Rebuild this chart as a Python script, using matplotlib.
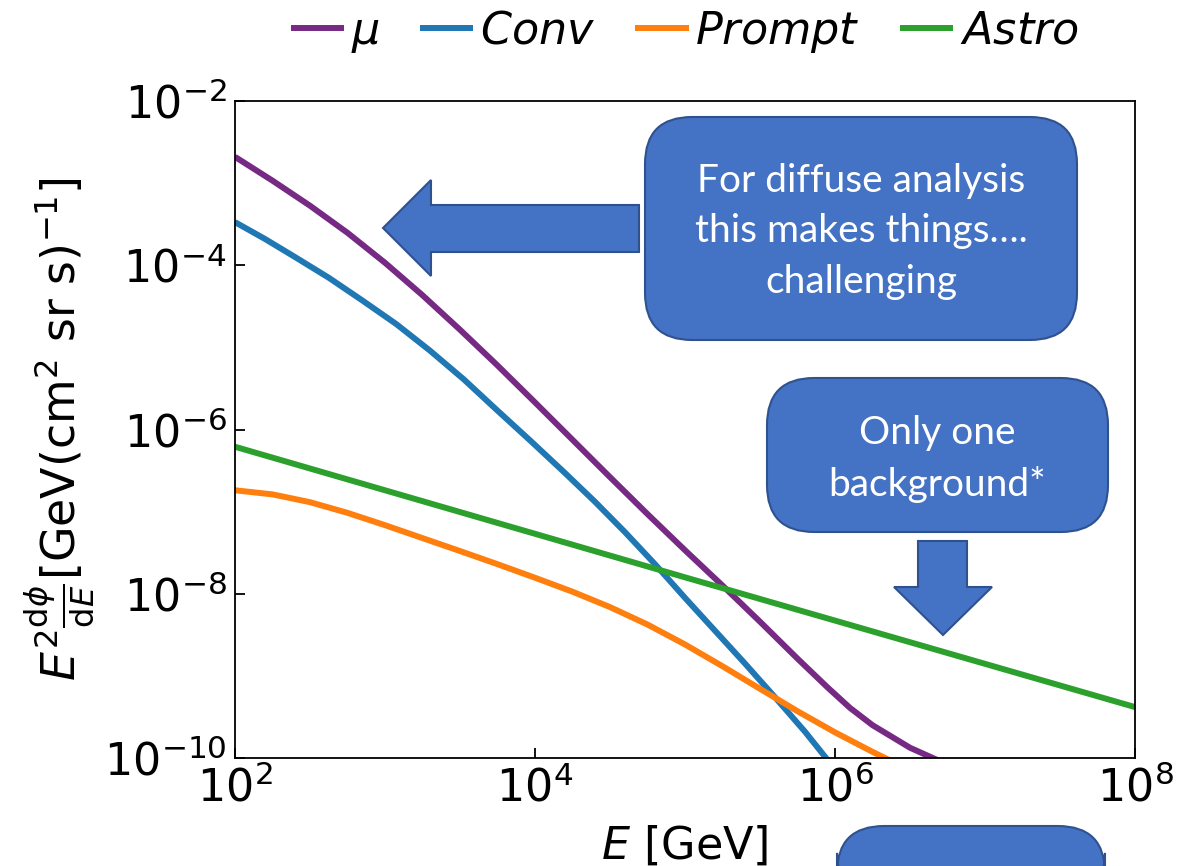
#!/usr/bin/env python3
"""Atmospheric muon / neutrino flux components with slide call-outs."""

import numpy as np
import matplotlib

matplotlib.use("Agg")
import matplotlib.pyplot as plt
from matplotlib.patches import FancyBboxPatch, Polygon

# curves, as log10(E / GeV) and log10(E^2 dphi/dE)
mu_log_e = np.array([2.0, 2.25, 2.5, 2.75, 3.0, 3.25, 3.5, 3.75, 4.0, 4.25, 4.5, 4.75,
                     5.0, 5.25, 5.5, 5.75, 5.95, 6.1, 6.25, 6.5, 6.75])
mu_log_f = np.array([-2.68, -2.97, -3.275, -3.605, -3.97, -4.365, -4.785, -5.22, -5.67, -6.125,
                     -6.58, -7.03, -7.47, -7.90, -8.34, -8.79, -9.14, -9.39, -9.60, -9.875, -10.08])

conv_log_e = np.array([2.0, 2.2, 2.4, 2.625, 2.85, 3.075, 3.3, 3.525, 3.75, 3.975, 4.2, 4.4,
                       4.6, 4.8, 5.0, 5.2, 5.4, 5.6, 5.8, 6.05])
conv_log_f = np.array([-3.475, -3.68, -3.90, -4.152, -4.43, -4.716, -5.04, -5.389, -5.77, -6.146,
                       -6.53, -6.88, -7.25, -7.64, -8.05, -8.45, -8.85, -9.26, -9.68, -10.25])

prompt_log_e = np.array([2.0, 2.25, 2.5, 2.75, 3.0, 3.25, 3.5, 3.75, 4.0, 4.25, 4.5, 4.75,
                         5.0, 5.25, 5.5, 5.75, 6.0, 6.25, 6.5])
prompt_log_f = np.array([-6.74, -6.79, -6.885, -7.015, -7.165, -7.3225, -7.48, -7.64, -7.805,
                         -7.975, -8.1625, -8.375, -8.6175, -8.8825, -9.1575, -9.43, -9.6875,
                         -9.925, -10.15])

astro_log_e = np.array([2.0, 5.0, 8.0])
astro_log_f = np.array([-6.21, -7.80, -9.38])

labels = [r"$\mu$", r"$Conv$", r"$Prompt$", r"$Astro$"]
colors = ["#762a83", "#1f77b4", "#ff7f0e", "#2ca02c"]

x_ticks = [1e2, 1e4, 1e6, 1e8]
y_ticks = [1e-10, 1e-8, 1e-6, 1e-4, 1e-2]

box_texts = [
    "For diffuse analysis\nthis makes things….\nchallenging",
    "Only one\nbackground*",
]

W, H = 1177, 866


def px(x, y):
    return (x / W, 1 - y / H)


def main():
    fig = plt.figure(figsize=(W / 100, H / 100), dpi=100)
    ax = fig.add_axes([235 / W, 1 - 758 / H, 900 / W, 657 / H])

    curves = [
        (mu_log_e, mu_log_f),
        (conv_log_e, conv_log_f),
        (prompt_log_e, prompt_log_f),
        (astro_log_e, astro_log_f),
    ]
    for (le, lf), lab, col in zip(curves, labels, colors):
        ax.plot(10 ** le, 10 ** lf, color=col, lw=4.3, label=lab, solid_capstyle="butt")

    ax.set_xscale("log")
    ax.set_yscale("log")
    ax.set_xlim(1e2, 1e8)
    ax.set_ylim(1e-10, 1e-2)
    ax.set_xticks(x_ticks)
    ax.set_yticks(y_ticks)
    ax.minorticks_off()
    ax.tick_params(direction="in", length=7, width=1.3, labelsize=32, pad=6)
    for s in ax.spines.values():
        s.set_linewidth(1.3)

    ax.set_xlabel(r"$E$ [GeV]", fontsize=32, labelpad=9)
    ax.set_ylabel(r"$E^2\frac{\mathrm{d}\phi}{\mathrm{d}E}[\mathrm{GeV}(\mathrm{cm}^2\ \mathrm{sr\ s})^{-1}]$",
                  fontsize=33, labelpad=6)

    fig.legend(loc="center", bbox_to_anchor=px(685, 32), ncol=4, frameon=False,
               fontsize=32, handlelength=1.2, handletextpad=0.15, columnspacing=0.9,
               borderaxespad=0)

    fill = "#4472c4"
    edge = "#2f528f"

    # call-out boxes
    boxes = [(645, 117, 1077, 340), (767, 378, 1108, 532), (837, 826, 1105, 900)]
    for x0, y0, x1, y1 in boxes:
        ll = px(x0, y1)
        ur = px(x1, y0)
        p = FancyBboxPatch(ll, ur[0] - ll[0], ur[1] - ll[1],
                           boxstyle="round,pad=0,rounding_size=0.04",
                           mutation_aspect=W / H,
                           transform=fig.transFigure, facecolor=fill, edgecolor=edge,
                           lw=1.5, zorder=5)
        fig.add_artist(p)

    # block arrows
    left_arrow = [(639, 205), (431, 205), (431, 180), (383, 228), (431, 276), (431, 252), (639, 252)]
    down_arrow = [(918, 541), (967, 541), (967, 587), (992, 587), (943, 635), (894, 587), (918, 587)]
    for pts in (left_arrow, down_arrow):
        poly = Polygon([px(x, y) for x, y in pts], closed=True, transform=fig.transFigure,
                       facecolor=fill, edgecolor=edge, lw=1.5, zorder=5)
        fig.add_artist(poly)

    fig.text(*px(861, 231), box_texts[0], ha="center", va="center", color="white",
             fontsize=28, family="Lato", linespacing=1.5, zorder=6)
    fig.text(*px(937, 459), box_texts[1], ha="center", va="center", color="white",
             fontsize=28, family="Lato", linespacing=1.5, zorder=6)

    fig.savefig("out.png", dpi=100)


if __name__ == "__main__":
    main()
